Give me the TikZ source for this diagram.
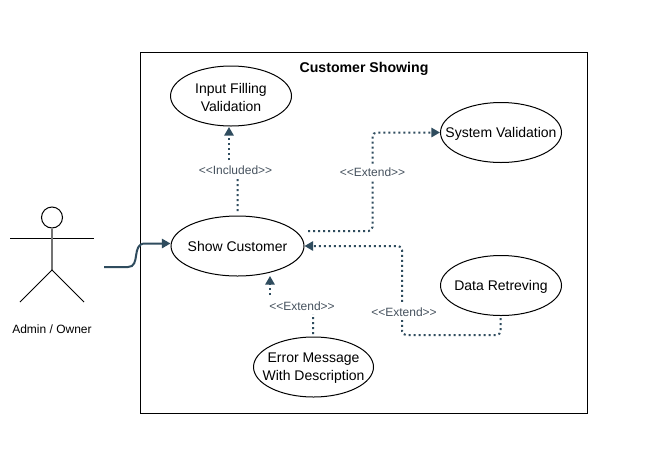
\documentclass[tikz,border=0pt]{standalone}
\usepackage{fontspec}
\setmainfont{Liberation Sans}
\usetikzlibrary{shapes.geometric,arrows.meta}
\definecolor{linkc}{HTML}{2F4C5E}
\definecolor{lblc}{HTML}{46525E}
\tikzset{
  usecase/.style={draw=black,ellipse,line width=0.75pt,inner sep=0pt},
  casetext/.style={align=center,inner sep=0pt,font=\fontsize{10.5}{13.5}\selectfont,text=black},
  outlinepart/.style={draw=black,line width=0.75pt},
  dotlink/.style={draw=linkc,line width=1.5pt,dash pattern=on 1.5pt off 2.25pt,rounded corners=3pt},
  tipend/.style={-{Triangle[length=6.5pt,width=7pt,fill=linkc]}},
  solidlink/.style={draw=linkc,line width=1.5pt},
  linklabel/.style={fill=white,inner ysep=2.5pt,inner xsep=1pt,text=lblc,font=\fontsize{9}{11}\selectfont}
}
\begin{document}
\begin{tikzpicture}[x=0.75pt,y=-0.75pt]
\useasboundingbox (0,0) rectangle (656,475);
\fill[white] (0,0) rectangle (656,475);
\node[draw=black,line width=0.75pt,inner sep=0pt,minimum width=335.25pt,minimum height=270.75pt] (frame) at (364,233) {};
\node[font=\fontsize{10.6}{13}\selectfont\bfseries,text=black] (title) at (364,69) {Customer Showing};
\node[usecase,minimum width=90.75pt,minimum height=45pt,label={[casetext,yshift=-0.75pt]center:{Input Filling\\Validation}}] (input) at (231,96) {};
\node[usecase,minimum width=99.75pt,minimum height=45pt,label={[casetext]center:{Show Customer}}] (show) at (237.5,246) {};
\node[usecase,minimum width=90.75pt,minimum height=45pt,label={[casetext,yshift=-0.75pt]center:{System Validation}}] (sysval) at (501,132.5) {};
\node[usecase,minimum width=90.75pt,minimum height=45pt,label={[casetext,yshift=-1.2pt]center:{Data Retreving}}] (data) at (501,285.5) {};
\node[usecase,minimum width=90pt,minimum height=45pt,label={[casetext,yshift=-0.75pt]center:{Error Message\\With Description}}] (error) at (313.5,367) {};
% actor
\node[draw=black,circle,line width=0.75pt,inner sep=0pt,minimum size=15.75pt] (head) at (52,217.5) {};
\coordinate (hip) at (52,270);
\coordinate (armL) at (10,238.5);
\coordinate (armR) at (94,238.5);
\coordinate (legL) at (20,302);
\coordinate (legR) at (84,302);
\draw[outlinepart] (armL) -- (armR);
\draw[draw=black!55,line width=1pt] (head.south) -- (hip);
\draw[outlinepart] (legL) -- (hip) -- (legR);
\node[font=\fontsize{9}{11}\selectfont,text=black] (actor) at (52,329) {Admin / Owner};
% solid link
\coordinate (actorout) at (104,267);
\draw[solidlink,tipend] (actorout) -- (128,267) .. controls (141,267) and (131,243.5) .. (145,243.5) -- (show.west |- 0,243.5);
% free ends
\coordinate (incstart) at (237.5,211);
\coordinate (inctip) at (229,127);
\coordinate (sysstart) at (308,231);
\coordinate (datastart) at (500.5,318);
\coordinate (errstart) at (313,334);
\coordinate (errtip) at (270,276);
% dotted links
\draw[dotlink] (incstart) -- (237.5,170) -- (229,170);
\draw[dotlink,tipend] (229,170) -- (inctip);
\draw[dotlink,tipend] (sysstart) -- (372.5,231) -- (372.5,132.5) -- (sysval.west);
\draw[dotlink,tipend] (datastart) -- (500.5,335) -- (402,335) -- (402,246) -- (show.east);
\draw[dotlink] (errstart) -- (313,305) -- (270,305);
\draw[dotlink,tipend] (270,305) -- (errtip);
\node[linklabel] (inclabel) at (235.5,170) {<{}<Included>{}>};
\node[linklabel] (syslabel) at (372.5,172) {<{}<Extend>{}>};
\node[linklabel] (datalabel) at (404,312) {<{}<Extend>{}>};
\node[linklabel] (errlabel) at (302,306) {<{}<Extend>{}>};
\end{tikzpicture}
\end{document}
